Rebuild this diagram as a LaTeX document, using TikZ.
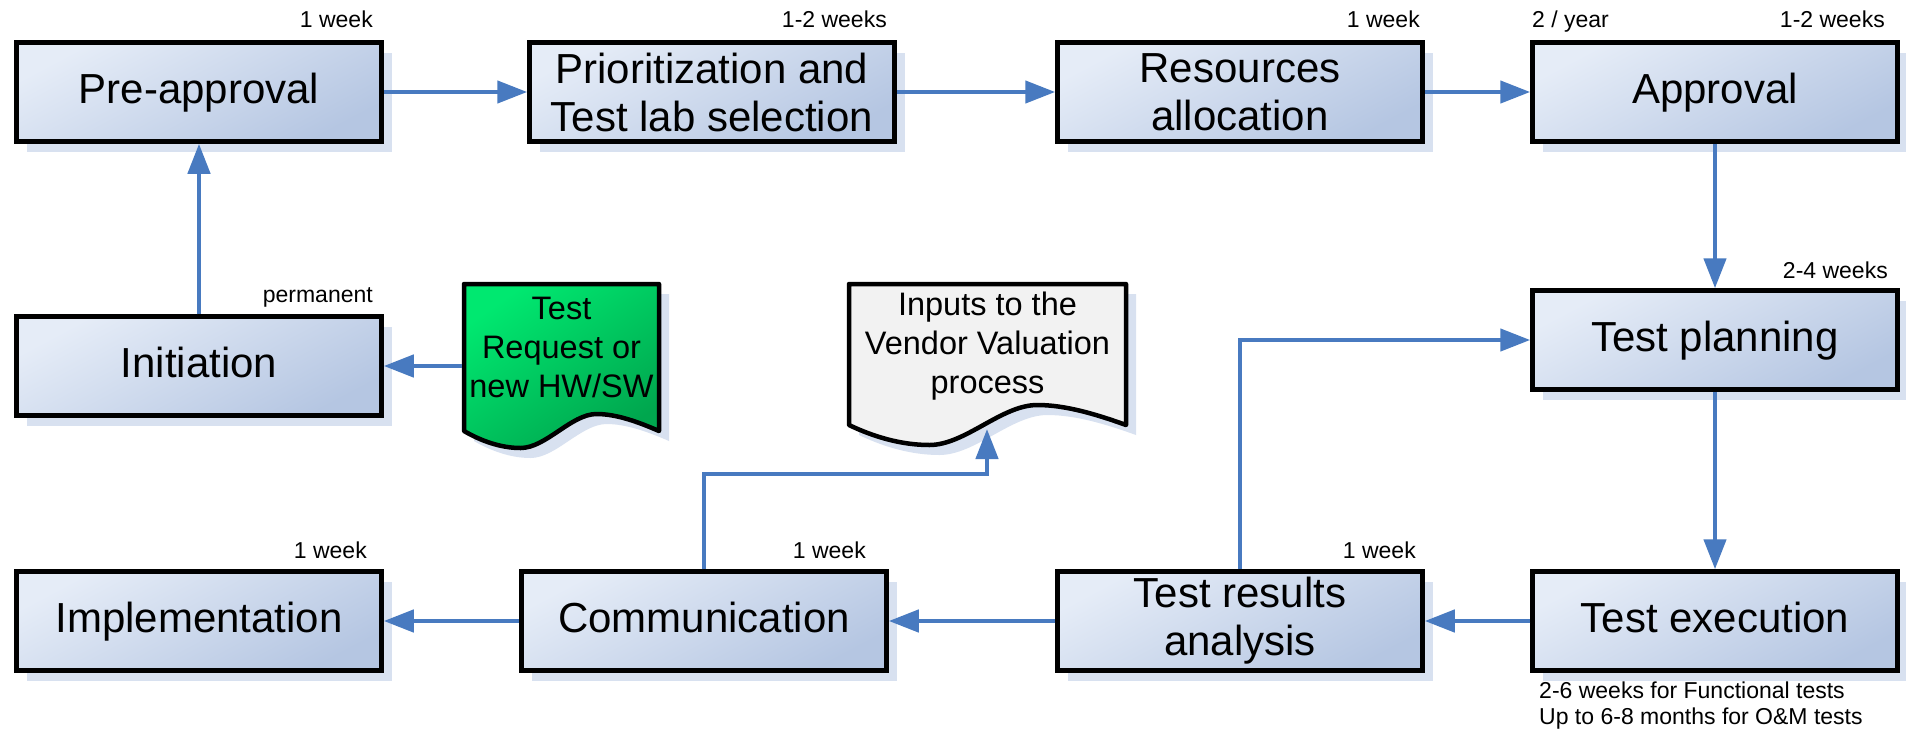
\documentclass[tikz,border=0pt]{standalone}
\usepackage{fontspec}
\setmainfont{Liberation Sans}
\usetikzlibrary{arrows.meta,shadows}

\definecolor{boxlight}{RGB}{229,236,247}
\definecolor{boxdark}{RGB}{181,198,226}
\definecolor{shadowblue}{RGB}{216,225,240}
\definecolor{flowblue}{RGB}{72,122,192}
\definecolor{reqlight}{RGB}{0,232,112}
\definecolor{reqdark}{RGB}{0,166,78}
\definecolor{docgray}{RGB}{242,242,242}

\tikzset{
  stage/.style={draw=black, line width=4.5pt, minimum width=365pt, minimum height=99pt,
    inner sep=0pt, top color=boxlight, bottom color=boxdark, shading angle=28,
    drop shadow={shadow xshift=10pt, shadow yshift=-10pt, fill=shadowblue, opacity=1},
    font=\fontsize{42}{48}\selectfont},
  oneline/.style={text height=30pt, text depth=8pt},
  twoline/.style={align=center},
  flow/.style={draw=flowblue, line width=4.5pt, -{Triangle[length=30pt,width=22pt]}},
  dur/.style={inner sep=0pt, font=\fontsize{23}{26}\selectfont},
  doctext/.style={inner sep=0pt, align=center, font=\fontsize{32.5}{39}\selectfont},
  docline/.style={draw=black, line width=4.5pt, line join=round},
}

% document symbol: top-left corner (#1,#2), width #3, side height #4, wave amplitude #5
\newcommand\wavedoc[5]{%
  (#1,#2) -- ({#1+#3},#2) -- ({#1+#3},{#2+#4})
  .. controls ({#1+0.89*#3},{#2+#4-0.55*#5}) and ({#1+0.78*#3},{#2+#4-#5}) .. ({#1+0.68*#3},{#2+#4-#5})
  .. controls ({#1+0.55*#3},{#2+#4-#5}) and ({#1+0.42*#3},{#2+#4+#5}) .. ({#1+0.29*#3},{#2+#4+#5})
  .. controls ({#1+0.19*#3},{#2+#4+#5}) and ({#1+0.09*#3},{#2+#4+0.6*#5}) .. (#1,{#2+#4}) -- cycle}

\begin{document}
\begin{tikzpicture}[x=1pt, y=-1pt]
\fill[white] (0,0) rectangle (1906,729);
\useasboundingbox (0,0) rectangle (1906,729);

% process stages
\node[stage,oneline] (pre)  at (199,92)   {Pre-approval};
\node[stage,twoline] (prio) at (712,92)   {Prioritization and\\Test lab selection};
\node[stage,twoline] (res)  at (1240,92)  {Resources\\allocation};
\node[stage,oneline] (appr) at (1715,92)  {Approval};
\node[stage,oneline] (init) at (199,366)  {Initiation};
\node[stage,oneline] (plan) at (1715,340) {Test planning};
\node[stage,oneline] (impl) at (199,621)  {Implementation};
\node[stage,oneline] (comm) at (704,621)  {Communication};
\node[stage,twoline] (anl)  at (1240,621) {Test results\\analysis};
\node[stage,oneline] (exec) at (1715,621) {Test execution};

% document symbols
\fill[shadowblue] \wavedoc{474}{294}{195}{147}{17};
\draw[docline, top color=reqlight, bottom color=reqdark, shading angle=35] \wavedoc{464}{284}{195}{147}{17};
\fill[shadowblue] \wavedoc{859}{294}{277}{141}{20};
\draw[docline, fill=docgray] \wavedoc{849}{284}{277}{141}{20};
\node[doctext] (req) at (561.5,347.6) {Test\\Request or\\new HW/SW};
\node[doctext] (vvp) at (987.5,345.7) {Inputs to the\\Vendor Valuation\\process};
\coordinate (reqedge) at (462,366);
\coordinate (vvpin) at (987,429);
\coordinate (vvpturn) at (987,474);

% durations
\node[dur, anchor=base east] (preT)  at (373,27)   {1 week};
\node[dur, anchor=base east] (prioT) at (887,27)   {1-2 weeks};
\node[dur, anchor=base east] (resT)  at (1420,27)  {1 week};
\node[dur, anchor=base west] (apprF) at (1532,27)  {2 / year};
\node[dur, anchor=base east] (apprT) at (1885,27)  {1-2 weeks};
\node[dur, anchor=base east] (planT) at (1888,278) {2-4 weeks};
\node[dur, anchor=base east] (initT) at (373,302)  {permanent};
\node[dur, anchor=base east] (implT) at (367,558)  {1 week};
\node[dur, anchor=base east] (commT) at (866,558)  {1 week};
\node[dur, anchor=base east] (anlT)  at (1416,558) {1 week};
\node[dur, anchor=north west, align=left] (execT) at (1539,681.5)
  {2-6 weeks for Functional tests\\Up to 6-8 months for O\&M tests};

% flow
\draw[flow] (init) -- (pre);
\draw[flow] (pre) -- (prio);
\draw[flow] (prio) -- (res);
\draw[flow] (res) -- (appr);
\draw[flow] (appr) -- (plan);
\draw[flow] (plan) -- (exec);
\draw[flow] (exec) -- (anl);
\draw[flow] (anl) -- (comm);
\draw[flow] (comm) -- (impl);
\draw[flow] (anl.north) |- (plan.west);
\draw[flow] (comm.north) |- (vvpturn) -- (vvpin);
\draw[flow] (reqedge) -- (init.east);
\end{tikzpicture}
\end{document}
